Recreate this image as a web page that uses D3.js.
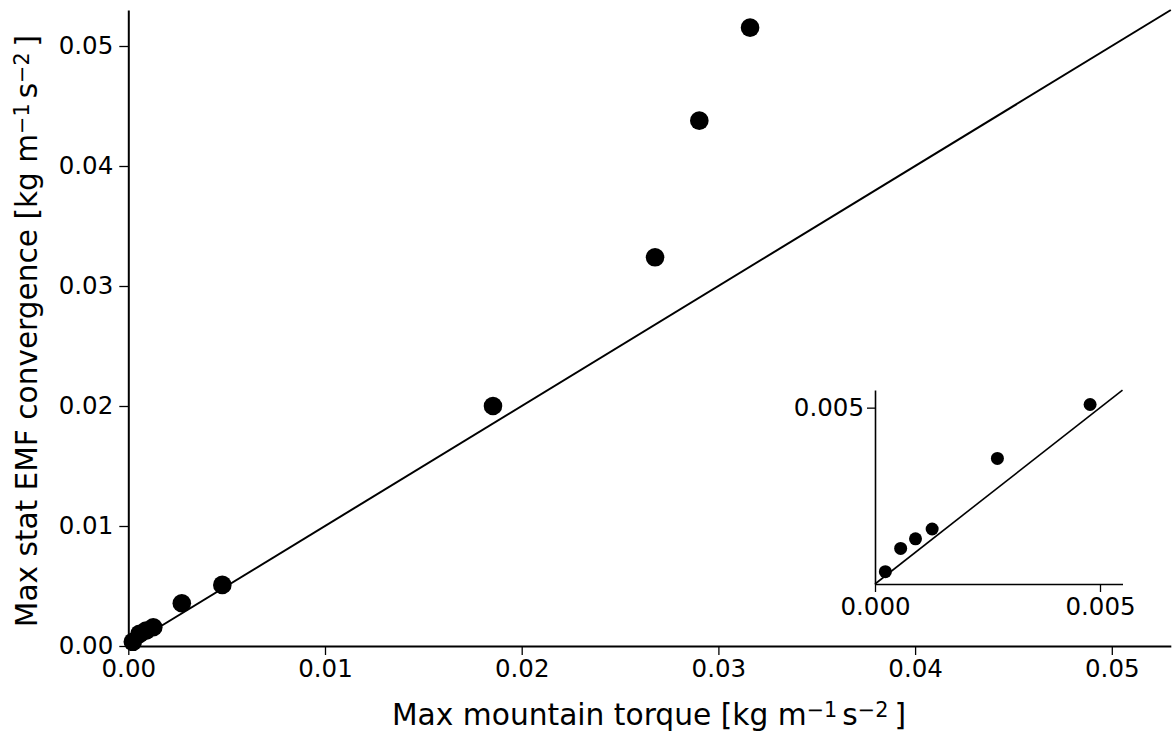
<!DOCTYPE html>
<html>
<head>
<meta charset="utf-8">
<script src="https://cdn.jsdelivr.net/npm/d3@7"></script>
<style>
  html, body { margin: 0; padding: 0; background: #fff; }
  svg { display: block; font-family: "DejaVu Sans", sans-serif; }
</style>
</head>
<body>
<svg id="chart" width="1173" height="738"></svg>
<script>
// Maximum mountain torque vs. maximum stationary EMF convergence
const torque      = [0.03161, 0.02903, 0.02678, 0.01854, 0.00478, 0.00272, 0.00127, 0.00090, 0.00057, 0.00023];
const convergence = [0.05153, 0.04378, 0.03239, 0.02000, 0.00509, 0.00356, 0.00156, 0.00128, 0.00101, 0.00035];
const mainTicks  = [0, 0.01, 0.02, 0.03, 0.04, 0.05];
const insetTicksX = [0, 0.005];
const insetTicksY = [0.005];
const mainMax = 0.053;
const insetMax = 0.0055;

const points = torque.map((t, i) => ({ x: t, y: convergence[i] }));
const svg = d3.select("#chart");

function superLabel(sel, base) {
  sel.append("tspan").text(base + " [kg m");
  sel.append("tspan").attr("baseline-shift", "38%").attr("font-size", "70%").text("\u22121");
  sel.append("tspan").attr("dx", 5).text("s");
  sel.append("tspan").attr("baseline-shift", "38%").attr("font-size", "70%").text("\u22122");
  sel.append("tspan").attr("dx", 6).text("]");
}

function styleAxis(a, width) {
  a.select(".domain").attr("stroke", "#000").attr("stroke-width", width);
  a.selectAll(".tick line").attr("stroke", "#000").attr("stroke-width", 1.3);
  a.selectAll(".tick text").attr("fill", "#000").attr("font-size", 24.5).attr("font-family", "DejaVu Sans");
}

// ---- main panel ----
const x = d3.scaleLinear().domain([0, mainMax]).range([128.3, 128.3 + mainMax * 19670]);
const y = d3.scaleLinear().domain([0, mainMax]).range([646, 646 - mainMax * 12000]);

const main = svg.append("g");
const xAxis = main.append("g").attr("transform", "translate(0,646)")
  .call(d3.axisBottom(x).tickValues(mainTicks).tickFormat(d3.format(".2f")).tickSize(9).tickPadding(5).tickSizeOuter(0));
const yAxis = main.append("g").attr("transform", "translate(128.3,0)")
  .call(d3.axisLeft(y).tickValues(mainTicks).tickFormat(d3.format(".2f")).tickSize(9).tickPadding(6).tickSizeOuter(0));
styleAxis(xAxis, 2);
styleAxis(yAxis, 2);

main.append("line")
  .attr("x1", x(0)).attr("y1", y(0)).attr("x2", x(mainMax)).attr("y2", y(mainMax))
  .attr("stroke", "#000").attr("stroke-width", 2);

main.selectAll("circle.pt").data(points).join("circle")
  .attr("class", "pt")
  .attr("cx", d => x(d.x)).attr("cy", d => y(d.y)).attr("r", 9.3).attr("fill", "#000");

const xl = main.append("text").attr("x", 649).attr("y", 725).attr("text-anchor", "middle")
  .attr("font-size", 29.7).attr("fill", "#000");
superLabel(xl, "Max mountain torque");

const yl = main.append("text").attr("transform", "translate(37,331) rotate(-90)").attr("text-anchor", "middle")
  .attr("font-size", 29.6).attr("fill", "#000");
superLabel(yl, "Max stat EMF convergence");

// ---- inset panel (small values) ----
const ix = d3.scaleLinear().domain([0, insetMax]).range([875, 875 + insetMax * 45000]);
const iy = d3.scaleLinear().domain([0, insetMax]).range([584, 584 - insetMax * 35270]);
const inset = svg.append("g");
const ixAxis = inset.append("g").attr("transform", "translate(0,584)")
  .call(d3.axisBottom(ix).tickValues(insetTicksX).tickFormat(d3.format(".3f")).tickSize(8).tickPadding(6).tickSizeOuter(0));
const iyAxis = inset.append("g").attr("transform", "translate(875,0)")
  .call(d3.axisLeft(iy).tickValues(insetTicksY).tickFormat(d3.format(".3f")).tickSize(8).tickPadding(3).tickSizeOuter(0));
styleAxis(ixAxis, 1.6);
styleAxis(iyAxis, 1.6);
inset.append("line")
  .attr("x1", ix(0)).attr("y1", iy(0)).attr("x2", ix(insetMax)).attr("y2", iy(insetMax))
  .attr("stroke", "#000").attr("stroke-width", 1.6);
inset.selectAll("circle.pt").data(points.filter(d => d.x < insetMax)).join("circle")
  .attr("class", "pt")
  .attr("cx", d => ix(d.x)).attr("cy", d => iy(d.y)).attr("r", 6.5).attr("fill", "#000");
</script>
</body>
</html>
